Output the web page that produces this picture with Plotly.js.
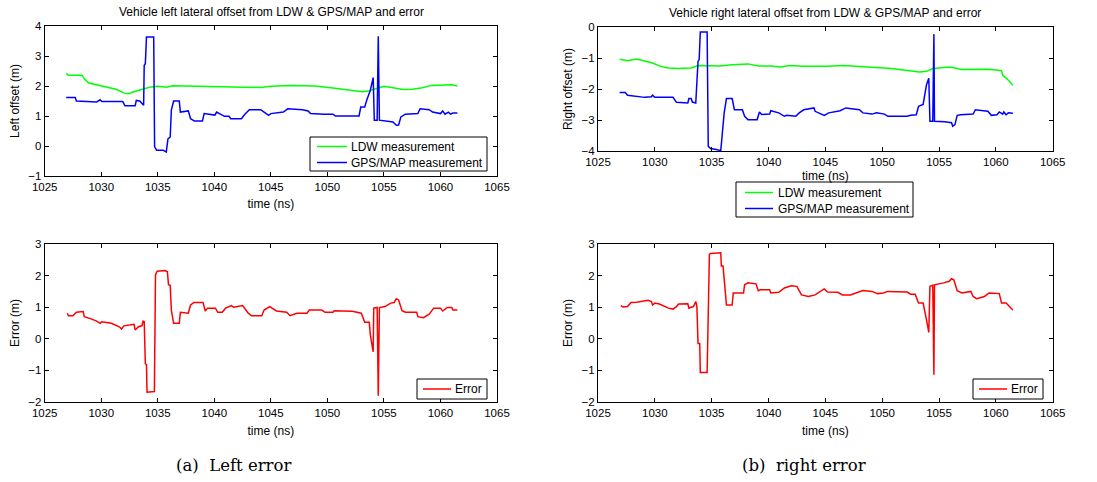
<!DOCTYPE html>
<html>
<head>
<meta charset="utf-8">
<script src="https://cdn.plot.ly/plotly-3.0.1.min.js"></script>
<style>html,body{margin:0;padding:0;background:#fff;}#chart{width:1097px;height:482px;}</style>
</head>
<body>
<div id="chart"></div>
<script>
// ---- Left lateral offset: LDW measurement ----
const leftLdwX = [1026.9,1027.1,1028.3,1028.5,1028.9,1029.8,1030.6,1031.3,1032.0,1032.4,1032.8,1033.25,1033.8,1034.4,1035.05,1035.75,1036.3,1037.4,1038.8,1040.2,1041.6,1043.0,1044.1,1045.0,1046.6,1048.0,1048.9,1050.3,1051.7,1053.1,1053.6,1054.4,1055.0,1055.8,1056.7,1057.5,1058.4,1059.2,1060.0,1061.0,1061.5];
const leftLdwY = [2.42,2.36,2.36,2.24,2.10,2.02,1.97,1.89,1.77,1.74,1.80,1.86,1.91,1.97,1.99,1.96,2.01,2.00,1.99,1.99,1.98,1.97,1.95,1.99,2.02,2.01,2.00,1.94,1.88,1.81,1.83,1.91,1.99,1.94,1.88,1.89,1.94,2.02,2.04,2.04,2.00];

// ---- Left lateral offset: GPS/MAP measurement ----
const leftGpsX = [1026.9,1027.7,1027.8,1028.8,1029.6,1029.9,1030.05,1031.9,1032.1,1033.0,1033.1,1033.4,1033.75,1033.8,1033.9,1034.0,1034.64,1034.72,1034.9,1035.47,1035.75,1035.9,1036.1,1036.2,1036.4,1036.9,1037.0,1037.7,1037.9,1038.25,1038.95,1039.1,1040.05,1040.2,1040.9,1041.3,1041.45,1042.4,1042.7,1043.1,1044.1,1044.4,1044.8,1045.0,1046.1,1046.5,1047.8,1048.3,1048.5,1049.7,1050.5,1050.7,1052.8,1052.95,1053.3,1053.5,1053.8,1054.05,1054.15,1054.4,1054.45,1054.5,1054.6,1055.3,1055.8,1056.1,1056.3,1056.5,1056.9,1058.0,1058.2,1059.0,1059.3,1060.0,1060.2,1060.4,1060.7,1060.9,1061.1,1061.5];
const leftGpsY = [1.62,1.62,1.50,1.47,1.47,1.54,1.48,1.48,1.34,1.34,1.52,1.50,1.36,2.69,2.74,3.63,3.63,-0.03,-0.14,-0.14,-0.20,0.24,0.30,1.19,1.50,1.50,1.13,1.17,0.91,0.83,0.83,1.08,1.03,1.13,0.99,0.99,0.91,0.91,1.06,1.21,1.21,1.13,1.02,1.08,1.13,1.24,1.21,1.17,1.08,1.06,1.06,1.00,1.00,1.30,1.30,1.55,1.86,2.28,0.86,0.86,3.52,3.66,0.86,0.83,0.80,0.69,0.70,0.97,1.06,1.08,1.24,1.21,1.13,1.08,1.17,1.06,1.13,1.06,1.10,1.10];

// ---- Right lateral offset: LDW measurement ----
const rightLdwX = [1026.9,1027.6,1028.4,1029.0,1029.8,1030.5,1031.2,1032.0,1033.2,1033.8,1034.9,1035.7,1036.8,1038.2,1039.1,1040.2,1041.0,1041.9,1043.0,1045.2,1046.6,1047.4,1049.1,1050.8,1052.2,1053.3,1053.9,1054.4,1055.6,1056.1,1057.0,1057.8,1059.2,1060.0,1060.5,1060.6,1061.0,1061.5];
const rightLdwY = [-1.04,-1.09,-1.03,-1.09,-1.16,-1.27,-1.32,-1.34,-1.32,-1.24,-1.24,-1.26,-1.22,-1.19,-1.26,-1.26,-1.29,-1.24,-1.27,-1.27,-1.24,-1.26,-1.29,-1.34,-1.40,-1.45,-1.43,-1.35,-1.30,-1.30,-1.37,-1.36,-1.36,-1.39,-1.41,-1.56,-1.68,-1.88];

// ---- Right lateral offset: GPS/MAP measurement ----
const rightGpsX = [1026.9,1027.4,1027.6,1028.7,1029.1,1029.7,1029.8,1030.0,1031.6,1031.9,1032.9,1033.0,1033.2,1033.3,1033.6,1033.8,1033.9,1034.0,1034.6,1034.7,1034.9,1035.4,1035.8,1035.9,1036.1,1036.3,1036.8,1037.0,1037.7,1037.9,1038.2,1039.0,1039.2,1039.4,1040.1,1040.2,1040.9,1041.4,1041.6,1042.4,1042.7,1043.1,1044.0,1044.1,1044.6,1044.9,1045.3,1046.3,1046.8,1048.0,1048.3,1049.1,1049.5,1050.2,1050.5,1052.2,1052.5,1053.0,1053.2,1053.6,1053.9,1054.1,1054.2,1054.45,1054.55,1054.6,1055.5,1056.1,1056.2,1056.4,1056.6,1056.9,1058.0,1058.2,1058.9,1059.3,1059.6,1060.1,1060.3,1060.6,1060.7,1060.9,1061.1,1061.5];
const rightGpsY = [-2.11,-2.11,-2.20,-2.24,-2.27,-2.25,-2.20,-2.27,-2.27,-2.43,-2.45,-2.31,-2.31,-2.42,-2.45,-1.11,-1.05,-0.16,-0.16,-3.85,-3.92,-3.95,-3.99,-3.58,-2.77,-2.31,-2.31,-2.67,-2.67,-2.88,-2.99,-2.99,-2.74,-2.82,-2.81,-2.70,-2.77,-2.88,-2.85,-2.88,-2.77,-2.67,-2.61,-2.72,-2.81,-2.85,-2.77,-2.70,-2.61,-2.67,-2.77,-2.81,-2.77,-2.81,-2.88,-2.88,-2.85,-2.83,-2.56,-2.50,-1.86,-1.65,-3.04,-3.04,-0.23,-3.04,-3.06,-3.09,-3.20,-3.15,-2.85,-2.83,-2.81,-2.67,-2.70,-2.72,-2.85,-2.83,-2.74,-2.81,-2.74,-2.83,-2.77,-2.78];

// ---- Left error ----
const leftErrX = [1027.0,1027.1,1027.5,1027.8,1028.4,1028.5,1029.1,1029.6,1029.9,1030.05,1030.9,1031.6,1031.8,1032.0,1032.9,1033.0,1033.3,1033.6,1033.7,1033.8,1033.9,1034.0,1034.05,1034.7,1034.8,1034.95,1035.65,1035.85,1035.95,1036.1,1036.2,1036.4,1036.9,1037.0,1037.7,1037.9,1038.2,1039.0,1039.2,1039.4,1040.1,1040.3,1040.7,1041.0,1041.5,1041.7,1042.5,1043.0,1043.3,1044.2,1044.4,1044.9,1045.5,1046.4,1046.7,1047.3,1048.2,1048.4,1049.5,1049.8,1050.5,1050.6,1052.2,1053.0,1053.3,1053.7,1053.8,1054.05,1054.1,1054.4,1054.5,1054.6,1055.1,1055.6,1055.9,1056.1,1056.3,1056.6,1056.9,1057.9,1058.0,1058.5,1059.0,1059.4,1060.0,1060.2,1060.6,1061.0,1061.1,1061.5];
const leftErrY = [0.81,0.73,0.73,0.84,0.86,0.70,0.63,0.56,0.49,0.54,0.49,0.38,0.31,0.41,0.46,0.28,0.38,0.41,0.56,0.54,-0.79,-0.82,-1.69,-1.67,2.03,2.14,2.16,2.12,1.71,1.69,0.91,0.49,0.49,0.84,0.81,1.07,1.15,1.15,0.88,0.97,0.97,0.84,0.84,0.97,1.05,1.00,1.05,0.81,0.73,0.73,0.91,1.02,0.88,0.84,0.73,0.81,0.81,0.91,0.91,0.84,0.84,0.89,0.87,0.81,0.52,0.52,0.12,-0.41,0.97,0.99,-1.80,0.99,1.02,1.13,1.15,1.27,1.23,0.89,0.84,0.84,0.70,0.67,0.78,0.97,0.97,0.88,0.99,0.99,0.91,0.91];

// ---- Right error ----
const rightErrX = [1027.0,1027.2,1027.6,1027.9,1028.4,1029.0,1029.4,1029.7,1029.8,1030.0,1030.4,1031.2,1031.6,1031.9,1032.1,1032.9,1033.0,1033.2,1033.4,1033.6,1033.7,1033.8,1033.95,1034.0,1034.6,1034.8,1034.9,1035.8,1035.85,1036.0,1036.2,1036.3,1036.8,1036.9,1037.8,1037.9,1038.2,1038.9,1039.1,1039.3,1040.1,1040.2,1040.9,1041.4,1042.0,1042.5,1042.9,1043.5,1044.1,1044.7,1044.9,1045.2,1046.1,1046.5,1047.2,1048.3,1049.1,1049.6,1050.1,1050.5,1052.2,1052.5,1052.9,1053.2,1053.6,1053.9,1054.1,1054.2,1054.45,1054.55,1054.6,1055.4,1055.9,1056.1,1056.3,1056.6,1057.0,1057.8,1058.0,1058.3,1059.0,1059.4,1060.1,1060.3,1060.5,1060.9,1061.2,1061.5];
const rightErrY = [1.05,1.01,1.02,1.15,1.16,1.20,1.22,1.18,1.07,1.13,1.10,0.97,0.94,1.02,1.10,1.11,0.97,1.00,1.02,1.18,1.02,-0.15,-0.15,-1.07,-1.07,2.67,2.70,2.72,2.30,2.30,1.50,1.07,1.07,1.45,1.45,1.71,1.77,1.74,1.52,1.55,1.55,1.45,1.47,1.61,1.68,1.66,1.39,1.34,1.39,1.55,1.58,1.48,1.47,1.39,1.39,1.53,1.50,1.43,1.45,1.50,1.48,1.41,1.41,1.13,1.13,0.60,0.20,1.66,1.69,-1.14,1.71,1.77,1.82,1.90,1.87,1.52,1.45,1.50,1.34,1.27,1.34,1.45,1.45,1.43,1.13,1.13,1.02,0.91];

// ---- Text ----
const titleLeft = "Vehicle left lateral offset from LDW & GPS/MAP and error";
const titleRight = "Vehicle right lateral offset from LDW & GPS/MAP and error";
const xLabel = "time (ns)";
const yLabelLeft = "Left offset (m)";
const yLabelRight = "Right offset (m)";
const yLabelErr = "Error (m)";
const captionLeft = "(a)\u00a0 Left error";
const captionRight = "(b)\u00a0 right error";
const nameLdw = "LDW measurement";
const nameGps = "GPS/MAP measurement";
const nameErr = "Error";

const GREEN = "rgb(0,255,0)", BLUE = "rgb(0,0,255)", RED = "rgb(255,0,0)";
const FONT = "Liberation Sans, Arial, sans-serif";
const W = 1097, H = 482;

function line(x, y, name, color, xa, ya) {
  return {x: x, y: y, name: name, type: "scatter", mode: "lines",
    line: {color: color, width: 1.5}, xaxis: xa, yaxis: ya, hoverinfo: "skip", showlegend: false};
}
const traces = [
  line(leftLdwX, leftLdwY, nameLdw, GREEN, "x", "y"),
  line(leftGpsX, leftGpsY, nameGps, BLUE, "x", "y"),
  line(rightLdwX, rightLdwY, nameLdw, GREEN, "x2", "y2"),
  line(rightGpsX, rightGpsY, nameGps, BLUE, "x2", "y2"),
  line(leftErrX, leftErrY, nameErr, RED, "x3", "y3"),
  line(rightErrX, rightErrY, nameErr, RED, "x4", "y4")
];

function px(a, b) { return [a / W, b / W]; }
function py(top, bottom) { return [(H - bottom) / H, (H - top) / H]; }

function xaxis(dom, anchor, standoff) {
  return {domain: dom, anchor: anchor, range: [1025, 1065], dtick: 5, tick0: 1025,
    showgrid: false, zeroline: false, showline: true, linecolor: "#000", linewidth: 1,
    mirror: "ticks", ticks: "inside", ticklen: 4, tickcolor: "#000",
    tickfont: {family: FONT, size: 11.5, color: "#000"},
    title: {text: xLabel, font: {family: FONT, size: 12, color: "#000"}, standoff: standoff}};
}
function yaxis(dom, anchor, range, text) {
  return {domain: dom, anchor: anchor, range: range, dtick: 1,
    showgrid: false, zeroline: false, showline: true, linecolor: "#000", linewidth: 1,
    mirror: "ticks", ticks: "inside", ticklen: 4, tickcolor: "#000",
    tickfont: {family: FONT, size: 11.5, color: "#000"},
    title: {text: text, font: {family: FONT, size: 12, color: "#000"}, standoff: 6}};
}

// Manual legends (pixel geometry of boxes), entries from the series names/colours
const shapes = [], annotations = [];
function legendBox(x0, x1, y0, y1, lineX0, lineX1, textX, entries) {
  shapes.push({type: "rect", xref: "paper", yref: "paper", x0: x0 / W, x1: x1 / W,
    y0: (H - y1) / H, y1: (H - y0) / H, line: {color: "#000", width: 1}, fillcolor: "#fff", layer: "above"});
  entries.forEach(function (e) {
    shapes.push({type: "line", xref: "paper", yref: "paper", x0: lineX0 / W, x1: lineX1 / W,
      y0: (H - e.y) / H, y1: (H - e.y) / H, line: {color: e.color, width: 1.5}, layer: "above"});
    annotations.push({text: e.name, xref: "paper", yref: "paper", x: textX / W, y: (H - e.y) / H,
      xanchor: "left", yanchor: "middle", showarrow: false, font: {family: FONT, size: 12, color: "#000"}});
  });
}
legendBox(310, 487, 137, 171, 317, 347, 349, [{name: nameLdw, color: GREEN, y: 146.5}, {name: nameGps, color: BLUE, y: 162.5}]);
legendBox(736, 913, 182, 217, 745, 773, 776, [{name: nameLdw, color: GREEN, y: 192.5}, {name: nameGps, color: BLUE, y: 208.5}]);
legendBox(417, 487, 379, 399, 423, 451, 453, [{name: nameErr, color: RED, y: 389}]);
legendBox(973, 1043, 379, 399, 979, 1007, 1009, [{name: nameErr, color: RED, y: 389}]);

annotations.push(
  {text: titleLeft, xref: "paper", yref: "paper", x: 271 / W, y: (H - 12) / H, showarrow: false,
    font: {family: FONT, size: 12, color: "#000"}, xanchor: "center", yanchor: "middle"},
  {text: titleRight, xref: "paper", yref: "paper", x: 825 / W, y: (H - 13) / H, showarrow: false,
    font: {family: FONT, size: 12, color: "#000"}, xanchor: "center", yanchor: "middle"},
  {text: captionLeft, xref: "paper", yref: "paper", x: 233 / W, y: (H - 465) / H, showarrow: false,
    font: {family: "DejaVu Serif, Liberation Serif, serif", size: 16.5, color: "#000"}, xanchor: "center", yanchor: "middle"},
  {text: captionRight, xref: "paper", yref: "paper", x: 804 / W, y: (H - 465) / H, showarrow: false,
    font: {family: "DejaVu Serif, Liberation Serif, serif", size: 16.5, color: "#000"}, xanchor: "center", yanchor: "middle"}
);

const layout = {
  width: W, height: H, margin: {l: 0, r: 0, t: 0, b: 0},
  paper_bgcolor: "#fff", plot_bgcolor: "#fff", showlegend: false,
  xaxis: xaxis(px(44.7, 497), "y", 7),
  yaxis: yaxis(py(26, 176), "x", [-1, 4], yLabelLeft),
  xaxis2: xaxis(px(598, 1052.7), "y2", 4),
  yaxis2: yaxis(py(27, 151), "x2", [-4, 0], yLabelRight),
  xaxis3: xaxis(px(44.7, 497), "y3", 8),
  yaxis3: yaxis(py(244, 402), "x3", [-2, 3], yLabelErr),
  xaxis4: xaxis(px(598, 1052.7), "y4", 8),
  yaxis4: yaxis(py(244, 402), "x4", [-2, 3], yLabelErr),
  shapes: shapes,
  annotations: annotations
};

Plotly.newPlot("chart", traces, layout, {staticPlot: true, displayModeBar: false});
</script>
</body>
</html>
